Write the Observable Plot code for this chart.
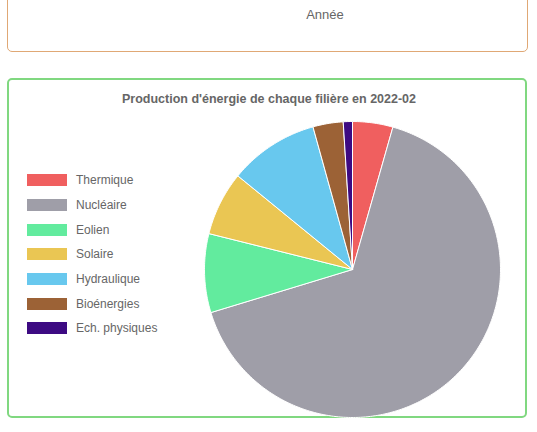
<!DOCTYPE html>
<html><head><meta charset="utf-8">
<script src="https://cdn.jsdelivr.net/npm/d3@7"></script>
<script src="https://cdn.jsdelivr.net/npm/@observablehq/plot@0.6"></script>
<style>
body{margin:0;background:#fff;font-family:"Liberation Sans",Arial,sans-serif;width:537px;height:432px;overflow:hidden;position:relative}
.top{position:absolute;left:7px;top:-10px;width:521px;height:62px;border:1.5px solid #e0a875;border-radius:5px;box-sizing:border-box}
.top span{position:absolute;left:0;width:100%;text-align:center;top:16px;font-size:13px;color:#666;padding-left:115px;box-sizing:border-box}
.box{position:absolute;left:7px;top:78px;width:520px;height:340px;border:2px solid #80d880;border-radius:5px;box-sizing:border-box}
.title{position:absolute;left:0;width:520px;top:12px;text-align:center;font-weight:bold;font-size:12.5px;color:#666}
.legend{position:absolute;left:18px;top:88px}
.item{display:flex;align-items:center;height:24.7px;font-size:12px;color:#666}
.sw{width:40px;height:12px;margin-right:9px}
#pie{position:absolute;left:193px;top:39px}
</style></head><body>
<div class="top"><span>Année</span></div>
<div class="box">
<div class="title">Production d'énergie de chaque filière en 2022-02</div>
<div class="legend" id="legend"></div>
<div id="pie"></div>
</div>
<script>
const categories=["Thermique","Nucléaire","Eolien","Solaire","Hydraulique","Bioénergies","Ech. physiques"];
const values=[4.4,65.9,8.6,7.0,9.8,3.3,1.0];
const colors=["#f05f5f","#9f9ea8","#62eb9e","#eac653","#68c8ee","#9c6236","#3d0a82"];
const arcs=d3.pie().sort(null).value(d=>d)(values);
const pts=[];
arcs.forEach((a,i)=>{
  const n=Math.max(4,Math.ceil((a.endAngle-a.startAngle)*60));
  pts.push({name:categories[i],x:0,y:0});
  for(let k=0;k<=n;k++){const t=a.startAngle+(a.endAngle-a.startAngle)*k/n;pts.push({name:categories[i],x:Math.sin(t),y:Math.cos(t)});}
  pts.push({name:categories[i],x:0,y:0});
});
const chart=Plot.plot({width:300,height:300,margin:2,
  x:{domain:[-1,1],axis:null},y:{domain:[-1,1],axis:null},
  color:{domain:categories,range:colors},
  marks:[Plot.line(pts,{x:"x",y:"y",z:"name",fill:"name",stroke:"white",strokeWidth:1,curve:"linear-closed"})]});
document.getElementById("pie").appendChild(chart);
const lg=document.getElementById("legend");
categories.forEach((c,i)=>{lg.insertAdjacentHTML("beforeend",`<div class="item"><div class="sw" style="background:${colors[i]}"></div>${c}</div>`)});
</script>
</body></html>
